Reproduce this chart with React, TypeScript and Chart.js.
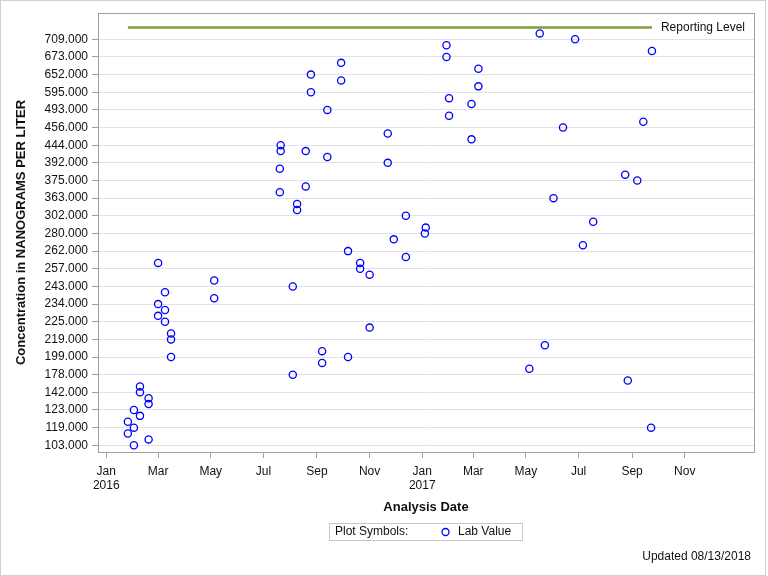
import React, { useEffect, useRef } from 'react';
import { Chart, registerables } from 'chart.js';

Chart.register(...registerables);

// Sample dates (Analysis Date) and lab values (ng/L), one entry per plotted point
const sampleDates = [
  '2016-02-02', '2016-02-19', '2016-01-26', '2016-02-02', '2017-09-23',
  '2016-01-26', '2016-02-09', '2016-02-02', '2016-02-19', '2016-02-19',
  '2016-02-09', '2016-02-09', '2017-08-27', '2016-08-04', '2017-05-05',
  '2016-09-07', '2016-03-16', '2016-10-07', '2016-09-07', '2017-05-23',
  '2016-03-16', '2016-03-16', '2016-11-01', '2016-03-09', '2016-03-01',
  '2016-03-09', '2016-03-01', '2016-05-05', '2016-03-09', '2016-08-04',
  '2016-05-05', '2016-11-01', '2016-10-21', '2016-03-01', '2016-10-21',
  '2016-12-13', '2016-10-07', '2017-07-06', '2016-11-29', '2017-01-04',
  '2017-01-05', '2017-07-18', '2016-12-13', '2016-08-09', '2016-08-09',
  '2017-06-02', '2016-07-20', '2016-08-19', '2017-09-07', '2017-08-24',
  '2016-07-20', '2016-11-22', '2016-09-13', '2016-07-21', '2016-08-19',
  '2016-07-21', '2017-02-27', '2016-11-22', '2017-06-13', '2017-09-14',
  '2017-02-01', '2016-09-13', '2017-02-27', '2017-02-01', '2016-08-25',
  '2017-03-07', '2016-09-29', '2016-08-25', '2017-03-07', '2016-09-29',
  '2017-01-29', '2017-09-24', '2017-01-29', '2017-06-27', '2017-05-17',
];
const labValues = [
  103, 108, 114, 119, 119,
  120, 121, 123, 129, 136,
  142, 150, 164, 178, 184,
  192, 199, 199, 205, 212,
  219, 221, 223, 225, 228,
  231, 234, 237, 240, 243,
  248, 252, 257, 259, 259,
  260, 262, 268, 274, 280,
  288, 295, 302, 320, 341,
  363, 366, 370, 375, 381,
  387, 392, 410, 428, 428,
  444, 448, 452, 456, 468,
  480, 493, 530, 560, 595,
  620, 640, 652, 660, 667,
  673, 685, 698, 709, 725,
];

// Tick labels shown on the discrete concentration axis
const yTickValues = [
  103, 119, 123, 142, 178, 199, 219, 225, 234, 243, 257, 262,
  280, 302, 363, 375, 392, 444, 456, 493, 595, 652, 673, 709,
];

// X-axis ticks
const xTickDates = [
  '2016-01-01', '2016-03-01', '2016-05-01', '2016-07-01', '2016-09-01', '2016-11-01',
  '2017-01-01', '2017-03-01', '2017-05-01', '2017-07-01', '2017-09-01', '2017-11-01',
];
const xTickMonths = ['Jan', 'Mar', 'May', 'Jul', 'Sep', 'Nov', 'Jan', 'Mar', 'May', 'Jul', 'Sep', 'Nov'];
const xTickYears = ['2016', '', '', '', '', '', '2017', '', '', '', '', ''];

const FONT = "'Liberation Sans', Arial, Helvetica, sans-serif";
const BASE = Date.UTC(2016, 0, 1);
const toDay = (s: string) => {
  const [y, m, d] = s.split('-').map(Number);
  return (Date.UTC(y, m - 1, d) - BASE) / 86400000;
};

export default function App() {
  const ref = useRef<HTMLCanvasElement | null>(null);

  useEffect(() => {
    document.body.style.margin = '0';
    const canvas = ref.current;
    if (!canvas) return;

    const categories = Array.from(new Set(labValues)).sort((a, b) => a - b);
    const rankOf = (v: number) => categories.indexOf(v);
    const points = sampleDates.map((d, i) => ({ x: toDay(d), y: rankOf(labValues[i]) }));
    const days = points.map((p) => p.x);
    const reportRank = categories.length;
    const reportLine = [
      { x: Math.min(...days), y: reportRank },
      { x: Math.max(...days), y: reportRank },
    ];
    const yTicks = yTickValues.map((v) => rankOf(v));
    const xTicks = xTickDates.map(toDay);

    const decor = {
      id: 'decor',
      afterDraw(chart: any) {
        const ctx = chart.ctx;
        const a = chart.chartArea;
        ctx.save();
        // outer border
        ctx.strokeStyle = '#d0d0d0';
        ctx.lineWidth = 1;
        ctx.strokeRect(0.5, 0.5, 765, 575);
        // plot frame
        ctx.strokeStyle = '#a0a0a0';
        ctx.strokeRect(Math.round(a.left) + 0.5, Math.round(a.top) + 0.5, Math.round(a.right - a.left), Math.round(a.bottom - a.top));
        // reporting level label
        const xs = chart.scales.x;
        const ys = chart.scales.y;
        ctx.fillStyle = '#111';
        ctx.font = `12px ${FONT}`;
        ctx.textBaseline = 'middle';
        ctx.textAlign = 'left';
        ctx.fillText('Reporting Level', xs.getPixelForValue(reportLine[1].x) + 9, ys.getPixelForValue(reportRank));
        // axis titles
        ctx.font = `bold 13px ${FONT}`;
        ctx.textAlign = 'center';
        ctx.fillText('Analysis Date', (a.left + a.right) / 2, 507);
        ctx.save();
        ctx.translate(21, (a.top + a.bottom) / 2);
        ctx.rotate(-Math.PI / 2);
        ctx.fillText('Concentration in NANOGRAMS PER LITER', 0, 0);
        ctx.restore();
        // legend box
        ctx.strokeStyle = '#c8c8c8';
        ctx.strokeRect(329.5, 523.5, 193, 17);
        ctx.font = `12px ${FONT}`;
        ctx.textAlign = 'left';
        ctx.fillStyle = '#111';
        ctx.fillText('Plot Symbols:', 335, 532);
        ctx.beginPath();
        ctx.arc(445.5, 532, 3.5, 0, Math.PI * 2);
        ctx.strokeStyle = '#0000ff';
        ctx.lineWidth = 1.3;
        ctx.stroke();
        ctx.fillText('Lab Value', 458, 532);
        // updated text
        ctx.textAlign = 'right';
        ctx.fillText('Updated 08/13/2018', 751, 557);
        ctx.restore();
      },
    };

    const chart = new Chart(canvas, {
      type: 'scatter',
      data: {
        datasets: [
          {
            type: 'line',
            label: 'Reporting Level',
            data: reportLine,
            borderColor: '#7f9f3c',
            borderWidth: 2.5,
            pointRadius: 0,
            showLine: true,
            fill: false,
          } as any,
          {
            label: 'Lab Value',
            data: points,
            pointStyle: 'circle',
            pointRadius: 3.6,
            pointBorderWidth: 1.3,
            borderColor: '#0000ff',
            backgroundColor: 'rgba(0,0,0,0)',
            pointHoverRadius: 3.6,
          },
        ],
      },
      options: {
        responsive: false,
        animation: false,
        devicePixelRatio: 1,
        events: [],
        layout: { padding: { left: 0, top: 13, right: 14, bottom: 74 } },
        plugins: { legend: { display: false }, tooltip: { enabled: false } },
        scales: {
          x: {
            type: 'linear',
            min: -9.6,
            max: 750.2,
            afterFit: (s: any) => { s.height = 50; },
            afterBuildTicks: (s: any) => { s.ticks = xTicks.map((v) => ({ value: v })); },
            grid: { drawOnChartArea: false, drawTicks: true, tickLength: 6, tickColor: '#a0a0a0' },
            border: { display: true, color: '#a0a0a0' },
            ticks: {
              autoSkip: false,
              maxRotation: 0,
              padding: 6,
              color: '#111',
              font: { family: FONT, size: 12, lineHeight: 1.2 },
              callback: (_v: any, i: number) => (xTickYears[i] ? [xTickMonths[i], xTickYears[i]] : xTickMonths[i]),
            },
          },
          y: {
            type: 'linear',
            min: -1.14,
            max: 73.47,
            afterFit: (s: any) => { s.width = 98; },
            afterBuildTicks: (s: any) => { s.ticks = yTicks.map((v) => ({ value: v })); },
            grid: { color: '#e2e2e2', tickColor: '#a0a0a0', tickLength: 6, drawTicks: true },
            border: { display: true, color: '#a0a0a0' },
            ticks: {
              autoSkip: false,
              padding: 4,
              color: '#111',
              font: { family: FONT, size: 12 },
              callback: (_v: any, i: number) => yTickValues[i].toFixed(3),
            },
          },
        },
      },
      plugins: [decor],
    });
    return () => chart.destroy();
  }, []);

  return (
    <div style={{ width: 768, height: 576, position: 'relative', background: '#fff' }}>
      <canvas ref={ref} width={768} height={576} style={{ display: 'block' }} />
    </div>
  );
}
